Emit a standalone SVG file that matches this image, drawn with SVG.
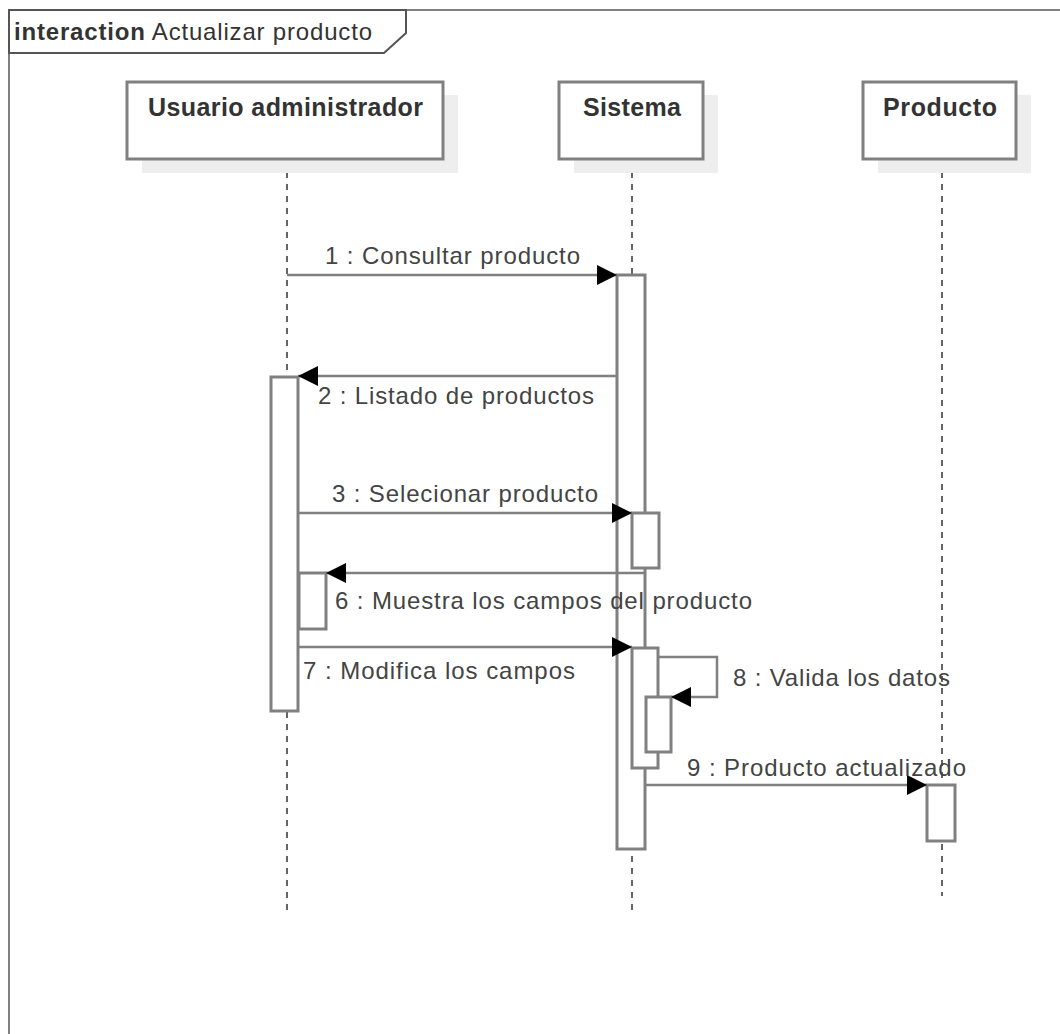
<svg xmlns="http://www.w3.org/2000/svg" width="1060" height="1034" viewBox="0 0 1060 1034">
<defs>
<style>
.frame{fill:none;stroke:#808080;stroke-width:2}
.tab{fill:#fff;stroke:#555;stroke-width:2}
.head{fill:#fff;stroke:#808080;stroke-width:3}
.shadow{fill:#eeeeee;stroke:none}
.life{stroke:#333;stroke-width:1.5;stroke-dasharray:6 6}
.act{fill:#fff;stroke:#808080;stroke-width:3}
.msg{fill:none;stroke:#808080;stroke-width:2.5}
.ht{font-family:"Liberation Sans",Arial,sans-serif;font-weight:bold;font-size:25px;fill:#333}
.lbl{font-family:"Liberation Sans",Arial,sans-serif;font-size:24px;fill:#444}
.ttl{font-family:"Liberation Sans",Arial,sans-serif;font-size:24px;fill:#333}
</style>
<marker id="arr" viewBox="0 0 20 20" refX="20" refY="10" markerWidth="20" markerHeight="20" markerUnits="userSpaceOnUse" orient="auto">
<path d="M0,0 L20,10 L0,20 Z" fill="#000"/>
</marker>
</defs>
<rect width="1060" height="1034" fill="#fff"/>
<g id="frame">
<path class="frame" d="M9,1034 L9,10 L1060,10"/>
<path class="tab" d="M9,10 L406,10 L406,33 L384,53 L9,53 Z"/>
<text class="ttl" x="14" y="40" textLength="358"><tspan font-weight="bold">interaction</tspan> Actualizar producto</text>
</g>
<g id="lifelines">
<line class="life" x1="287" y1="160" x2="287" y2="912"/>
<line class="life" x1="632" y1="160" x2="632" y2="912"/>
<line class="life" x1="942" y1="160" x2="942" y2="896"/>
</g>
<g id="usuario">
<rect class="shadow" x="142" y="95" width="316" height="78"/>
<rect class="head" x="127" y="82" width="316" height="77"/>
<text class="ht" x="148" y="116" textLength="275">Usuario administrador</text>
</g>
<g id="sistema">
<rect class="shadow" x="574" y="95" width="144" height="78"/>
<rect class="head" x="559" y="82" width="144" height="77"/>
<text class="ht" x="583" y="116" textLength="98">Sistema</text>
</g>
<g id="producto">
<rect class="shadow" x="878" y="95" width="153" height="78"/>
<rect class="head" x="863" y="82" width="153" height="77"/>
<text class="ht" x="883" y="116" textLength="114">Producto</text>
</g>
<g id="activations">
<rect class="act" x="617" y="275" width="28" height="574"/>
<rect class="act" x="271" y="377" width="27" height="334"/>
<rect class="act" x="632" y="513" width="27" height="55"/>
<rect class="act" x="299" y="573" width="27" height="56"/>
<rect class="act" x="632" y="648" width="26" height="120"/>
<rect class="act" x="646" y="697" width="25" height="55"/>
<rect class="act" x="927" y="785" width="28" height="56"/>
</g>
<g id="connectors">
<line class="msg" x1="287" y1="275" x2="617" y2="275" marker-end="url(#arr)"/>
<line class="msg" x1="617" y1="376" x2="298" y2="376" marker-end="url(#arr)"/>
<line class="msg" x1="298" y1="513" x2="632" y2="513" marker-end="url(#arr)"/>
<line class="msg" x1="644" y1="573" x2="326" y2="573" marker-end="url(#arr)"/>
<line class="msg" x1="298" y1="647" x2="632" y2="647" marker-end="url(#arr)"/>
<polyline class="msg" points="658,657 717,657 717,697 671,697" marker-end="url(#arr)"/>
<line class="msg" x1="645" y1="785" x2="927" y2="785" marker-end="url(#arr)"/>
</g>
<g id="labels">
<text class="lbl" x="325" y="264" textLength="255">1 : Consultar producto</text>
<text class="lbl" x="318" y="404" textLength="276">2 : Listado de productos</text>
<text class="lbl" x="332" y="502" textLength="266">3 : Selecionar producto</text>
<text class="lbl" x="335" y="609" textLength="417">6 : Muestra los campos del producto</text>
<text class="lbl" x="303" y="679" textLength="272">7 : Modifica los campos</text>
<text class="lbl" x="733" y="686" textLength="217">8 : Valida los datos</text>
<text class="lbl" x="687" y="776" textLength="279">9 : Producto actualizado</text>
</g>
</svg>
